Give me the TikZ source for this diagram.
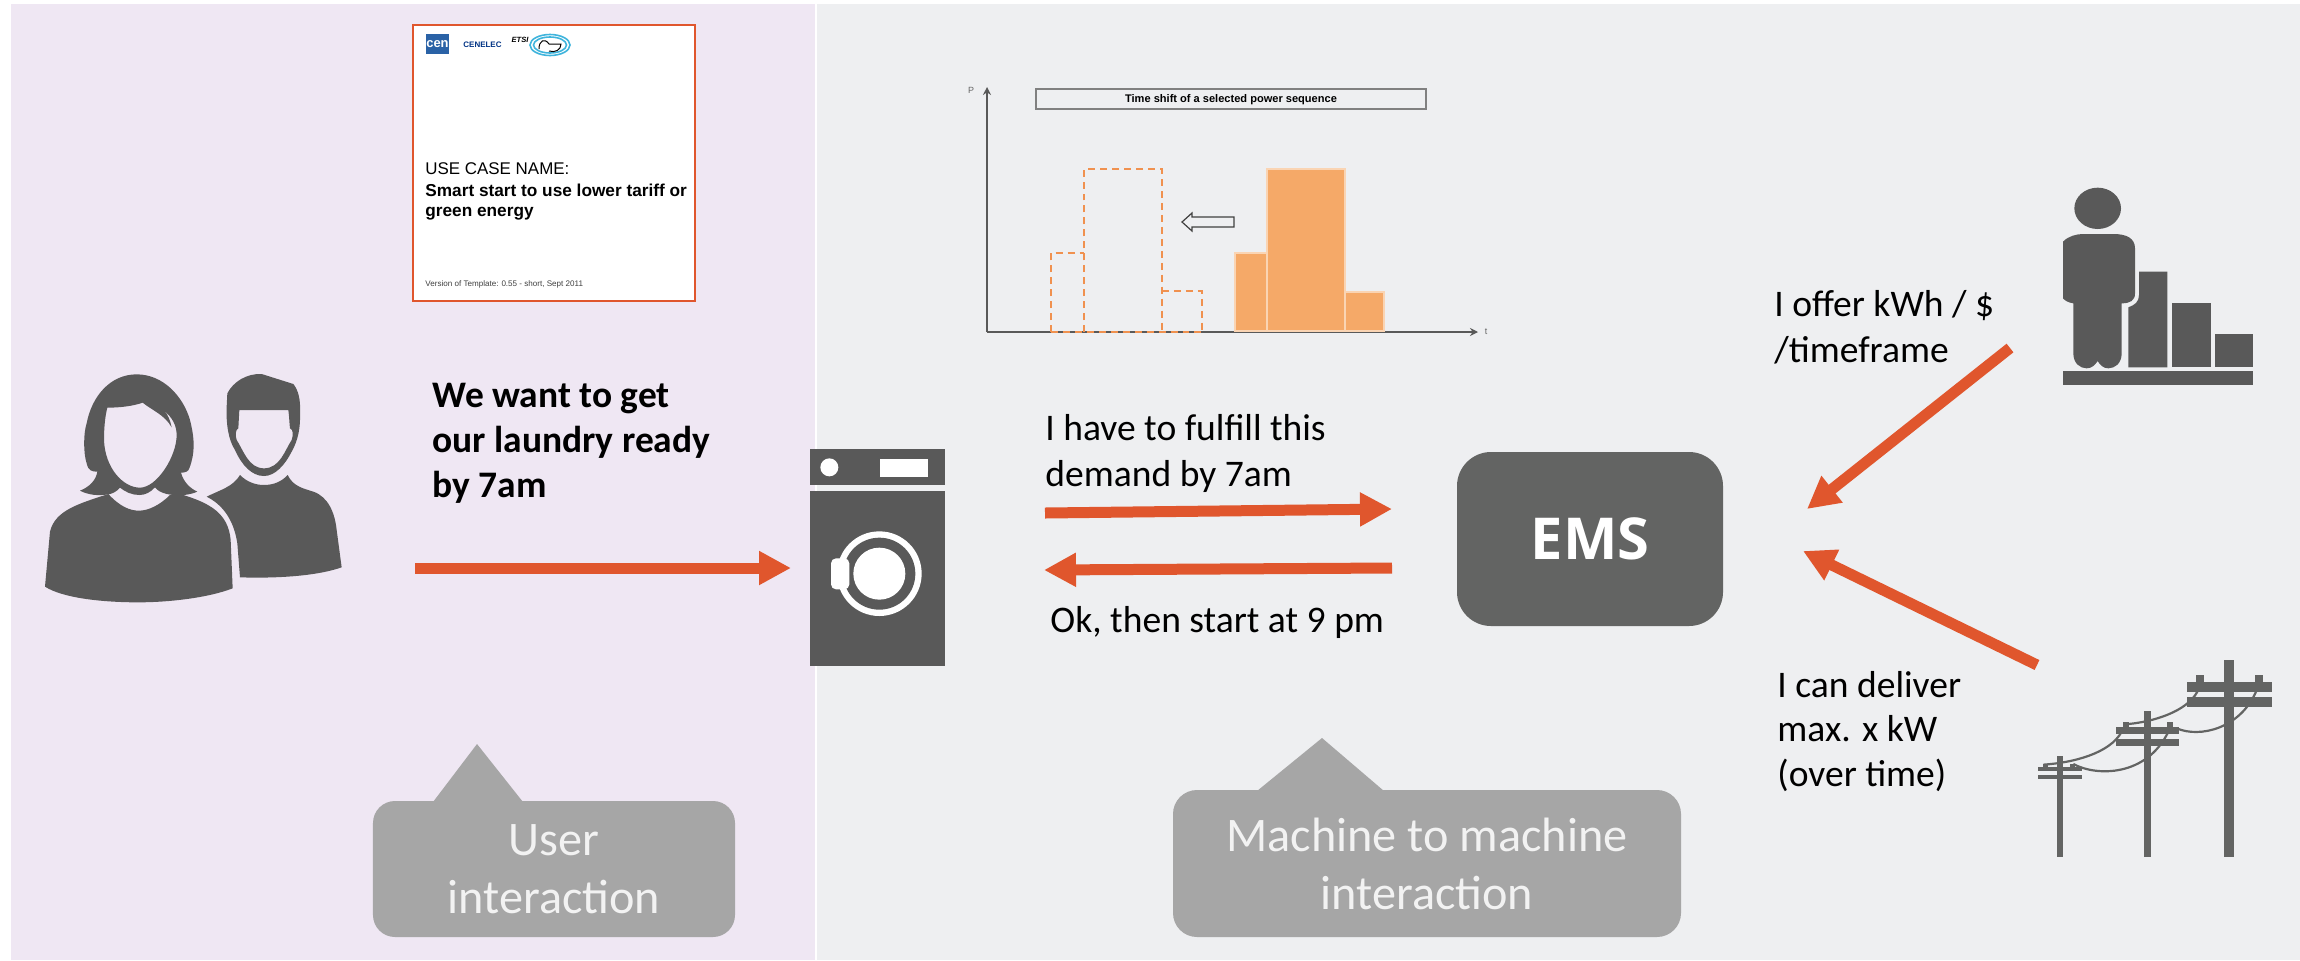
\documentclass[tikz,border=0pt]{standalone}
\usepackage{fontspec}
\setmainfont{Carlito}
\newfontfamily\arialfont{Liberation Sans}
\newfontfamily\emsfont{Open Sans}
\usetikzlibrary{arrows.meta}
\definecolor{lilacbg}{HTML}{EFE7F3}
\definecolor{greybg}{HTML}{EEEFF1}
\definecolor{darkicon}{HTML}{595959}
\definecolor{poleicon}{HTML}{636463}
\definecolor{bubble}{HTML}{A6A6A6}
\definecolor{redarrow}{HTML}{E0562D}
\definecolor{peach}{HTML}{F5A968}
\definecolor{peachline}{HTML}{F0914F}
\definecolor{cenblue}{HTML}{2A62A6}
\definecolor{ringblue}{HTML}{3FB4DC}
\tikzset{
  bigarrow/.style={redarrow, line width=5.5bp, -{Triangle[length=16bp,width=16bp]}},
  speech/.style={anchor=base west, align=left, font={\fontsize{18.85pt}{22.6pt}\selectfont}, inner sep=0pt},
  bubblebox/.style={fill=bubble, rounded corners=11bp, inner sep=0pt, align=center, text=white!95!black,
    font={\fontsize{24.2pt}{29.1pt}\selectfont}},
  oldbar/.style={draw=peachline, line width=1.4pt, dash pattern=on 3.5pt off 2.5pt},
  newbar/.style={fill=peach, draw=peach!50!white, line width=0.6pt},
  axisline/.style={draw=darkicon, line width=1pt, -{Stealth[length=4pt,width=4pt]}}
}
\begin{document}
\begin{tikzpicture}[x=0.5bp, y=-0.5bp]
  \useasboundingbox (0,0) rectangle (2300,960);

  % Panels
  \fill[lilacbg] (11,4) rectangle (815,960);
  \fill[greybg] (816.5,4) rectangle (2300,960);

  % Use case sheet
  \node[draw=redarrow, fill=white, line width=1pt, minimum width=141bp, minimum height=138bp, inner sep=0pt] (sheet) at (554,163) {};
  \node[fill=cenblue, text=white, minimum width=11.5bp, minimum height=10bp, inner sep=0pt, font=\arialfont\bfseries\fontsize{6.5pt}{7pt}\selectfont] (cen) at (437.5,44) {cen};
  \node[text=blue!40!black!80!cyan, inner sep=0pt, font=\arialfont\bfseries\fontsize{4pt}{4pt}\selectfont] (cenelec) at (482.5,45) {CENELEC};
  \node[inner sep=0pt, font=\arialfont\bfseries\itshape\fontsize{3.8pt}{4pt}\selectfont] (etsi) at (520,40) {ETSI};
  \draw[ringblue, line width=0.8pt, fill=white] (550,45) ellipse [x radius=20, y radius=10.5];
  \draw[ringblue, line width=0.8pt] (550,45) ellipse [x radius=16.5, y radius=8];
  \fill[white] (550,45) ellipse [x radius=13, y radius=6];
  \draw[black, line width=0.5pt] (539,49) .. controls (539,40) and (545,38) .. (549,44) -- (561,44) .. controls (561,50) and (555,53) .. (549,51);
  \node[anchor=base west, inner sep=0pt, font=\arialfont\fontsize{8.5pt}{10pt}\selectfont] (ucname) at (425,174) {USE CASE NAME:};
  \node[anchor=base west, align=left, inner sep=0pt, font=\arialfont\bfseries\fontsize{8.65pt}{9.6pt}\selectfont] (ucdesc) at (425,216) {Smart start to use lower tariff or\\green energy};
  \node[anchor=base west, inner sep=0pt, text=black!75, font=\arialfont\fontsize{4.05pt}{4pt}\selectfont] (ucver) at (425,286) {Version of Template: 0.55 - short, Sept 2011};

  % Time shift chart
  \node[draw=black!50, line width=1pt, minimum width=195bp, minimum height=10bp, inner sep=0pt, text height=4.2pt, text depth=0.5pt, font=\arialfont\bfseries\fontsize{5.55pt}{6pt}\selectfont] (shift) at (1231,99) {Time shift of a selected power sequence};
  \coordinate (orig) at (987,332);
  \coordinate (ptop) at (987,87);
  \coordinate (tend) at (1478,332);
  \node[text=black!60, inner sep=0pt, font=\arialfont\fontsize{4.5pt}{5pt}\selectfont] (plabel) at (971,90) {P};
  \node[text=black!60, inner sep=0pt, font=\arialfont\fontsize{4.5pt}{5pt}\selectfont] (tlabel) at (1486,332) {t};
  \draw[axisline] (orig) -- (ptop);
  \draw[axisline] (orig) -- (tend);
  \draw[oldbar] (1051,332) |- (1084,253);
  \draw[oldbar] (1084,332) |- (1162,169) -- (1162,332);
  \draw[oldbar] (1162,291) -| (1202,332);
  \draw[oldbar] (1051,332) -- (1202,332);
  \draw[newbar] (1235,331) rectangle (1267,253);
  \draw[newbar] (1267,331) rectangle (1345,169);
  \draw[newbar] (1345,331) rectangle (1384,292);
  \draw[black!75, line width=0.6pt] (1182,222) -- (1192,213) -- (1192,217) -- (1234,217) -- (1234,227) -- (1192,227) -- (1192,231) -- cycle;

  % Users
  \begin{scope}[shift={(20,340)}, scale=1/3]
    \fill[darkicon] (75,740) -- (90,575) .. controls (105,510) and (180,490) .. (265,462) .. controls (300,500) and (330,512) .. (357,512) .. controls (385,512) and (420,495) .. (450,465) -- (490,465) .. controls (570,490) and (625,520) .. (632,600) -- (638,745) .. controls (560,775) and (440,787) .. (355,787) .. controls (250,787) and (130,775) .. (75,740) -- cycle;
    \fill[darkicon, even odd rule] (180,452) .. controls (210,440) and (228,420) .. (232,395) .. controls (215,395) and (205,392) .. (200,370) .. controls (190,340) and (190,280) .. (200,250) .. controls (215,170) and (270,103) .. (350,103) .. controls (430,103) and (490,170) .. (510,240) .. controls (525,300) and (525,340) .. (508,385) .. controls (505,395) and (495,398) .. (483,398) .. controls (490,425) and (510,445) .. (532,455) .. controls (505,467) and (470,468) .. (440,462) .. controls (425,458) and (412,452) .. (405,442) .. controls (390,458) and (375,465) .. (358,465) .. controls (335,465) and (315,455) .. (300,443) .. controls (290,455) and (275,462) .. (265,463) .. controls (235,468) and (205,465) .. (180,452) -- cycle
      (262,203) .. controls (300,203) and (340,198) .. (368,188) .. controls (395,210) and (435,225) .. (455,262) .. controls (450,240) and (445,225) .. (432,212) .. controls (455,230) and (470,255) .. (470,285) .. controls (470,350) and (410,443) .. (360,443) .. controls (310,443) and (255,385) .. (252,300) .. controls (252,265) and (255,230) .. (262,203) -- cycle;
    \fill[darkicon, even odd rule] (622,160) .. controls (640,125) and (680,100) .. (725,102) -- (820,132) .. controls (835,150) and (842,180) .. (840,215) .. controls (842,260) and (835,300) .. (815,335) .. controls (795,375) and (765,408) .. (732,408) .. controls (695,408) and (665,375) .. (645,330) .. controls (625,300) and (618,250) .. (620,200) -- cycle
      (658,210) -- (805,210) .. controls (808,230) and (808,250) .. (810,265) .. controls (820,268) and (820,285) .. (815,300) .. controls (795,330) and (780,385) .. (732,385) .. controls (685,385) and (670,330) .. (650,300) .. controls (645,285) and (647,268) .. (655,265) -- cycle;
    \fill[darkicon] (560,470) .. controls (600,450) and (640,440) .. (660,405) .. controls (680,425) and (705,435) .. (732,435) .. controls (760,435) and (785,425) .. (803,405) .. controls (820,440) and (850,445) .. (880,455) .. controls (925,470) and (945,520) .. (950,570) -- (965,682) .. controls (900,705) and (790,716) .. (660,712) -- (652,610) .. controls (640,530) and (600,490) .. (560,470) -- cycle;
  \end{scope}

  % Washing machine
  \begin{scope}[shift={(780,430)}, scale=1/3]
    \fill[darkicon] (90,57) rectangle (495,166);
    \fill[white] (148,112) circle [radius=27];
    \fill[white] (300,88) rectangle (445,142);
    \fill[darkicon] (90,183) rectangle (495,707);
    \fill[white] (298,431) circle [radius=127];
    \fill[darkicon] (298,431) circle [radius=108];
    \fill[white] (298,431) circle [radius=78];
    \fill[white, rounded corners=2.5bp] (153,385) rectangle (208,478);
  \end{scope}

  % Offer icon
  \begin{scope}[shift={(2020,170)}, scale=1/3]
    \fill[darkicon] (233,115) ellipse [x radius=70, y radius=62];
    \fill[darkicon] (129,215) .. controls (145,198) and (170,192) .. (190,192) -- (280,192) .. controls (320,192) and (345,205) .. (345,235) -- (345,370) .. controls (345,392) and (330,400) .. (305,400) -- (305,550) .. controls (305,580) and (285,595) .. (265,595) .. controls (250,595) and (240,585) .. (233,573) .. controls (225,585) and (215,595) .. (200,595) .. controls (180,595) and (160,580) .. (160,550) -- (160,400) .. controls (145,398) and (135,392) .. (129,385) -- cycle;
    \fill[darkicon] (357,305) -- (442,305) -- (442,592) -- (325,592) -- (325,412) .. controls (345,405) and (357,395) .. (357,375) -- cycle;
    \fill[darkicon] (457,400) rectangle (572,592);
    \fill[darkicon] (585,492) rectangle (698,592);
    \fill[darkicon] (129,604) rectangle (698,644);
  \end{scope}

  % Power poles
  \begin{scope}[shift={(2020,640)}, scale=1/3]
    \fill[poleicon] (613,60) rectangle (643,650);
    \fill[poleicon] (501,125) rectangle (755,155);
    \fill[poleicon] (501,172) rectangle (755,202);
    \fill[poleicon] (527,105) rectangle (552,125);
    \fill[poleicon] (705,105) rectangle (730,125);
    \fill[poleicon] (372,213) rectangle (393,650);
    \fill[poleicon] (289,262) rectangle (477,282);
    \fill[poleicon] (289,297) rectangle (477,317);
    \fill[poleicon] (308,247) rectangle (327,262);
    \fill[poleicon] (440,247) rectangle (458,262);
    \fill[poleicon] (112,348) rectangle (128,650);
    \fill[poleicon] (55,381) rectangle (186,393);
    \fill[poleicon] (55,405) rectangle (186,418);
    \fill[poleicon] (68,372) rectangle (85,381);
    \fill[poleicon] (150,372) rectangle (165,381);
    \draw[poleicon, line width=1.1pt] (70,374) .. controls (160,368) and (270,340) .. (305,275);
    \draw[poleicon, line width=1.1pt] (160,372) .. controls (230,410) and (380,410) .. (445,275);
    \draw[poleicon, line width=1.1pt] (325,252) .. controls (400,245) and (500,215) .. (532,155);
    \draw[poleicon, line width=1.1pt] (470,265) .. controls (540,295) and (660,265) .. (708,155);
  \end{scope}

  % EMS box
  \node[fill=poleicon, rounded corners=17bp, minimum width=133bp, minimum height=87bp, inner sep=0pt, text=white, font=\emsfont\bfseries\fontsize{29pt}{30pt}\selectfont] (ems) at (1590,539) {EMS};

  % Labels
  \node[speech, font={\bfseries\fontsize{18.8pt}{22.5pt}\selectfont}] (want) at (432,497) {We want to get\\our laundry ready\\by 7am};
  \node[speech] (fulfill) at (1045,486) {I have to fulfill this\\demand by 7am};
  \node[speech] (okstart) at (1050,632) {Ok, then start at 9 pm};
  \node[speech] (offer) at (1774,362) {I offer kWh / \$\\/timeframe};
  \node[speech, font={\fontsize{18.85pt}{22.1pt}\selectfont}] (deliver) at (1777,786) {I can deliver\\max. x kW\\(over time)};

  % Bubbles
  \node[bubblebox, minimum width=181bp, minimum height=68bp] (user) at (554,869) {User\\interaction};
  \fill[bubble] (433,802) -- (477,744) -- (523,802) -- cycle;
  \node[bubblebox, rounded corners=12bp, minimum width=254bp, minimum height=73.5bp] (m2m) at (1427,863.5) {Machine to machine\\interaction};
  \fill[bubble] (1257,791) -- (1322,738) -- (1384,791) -- cycle;

  % Arrows
  \coordinate (a0) at (415,568);
  \coordinate (a1) at (791,568);
  \coordinate (b0) at (1045,513);
  \coordinate (b1) at (1392,509);
  \coordinate (c0) at (1392,568);
  \coordinate (c1) at (1044,570);
  \coordinate (d0) at (2010,348);
  \coordinate (d1) at (1807,509);
  \coordinate (e0) at (2037,665);
  \coordinate (e1) at (1803,551);
  \draw[bigarrow] (a0) -- (a1);
  \draw[bigarrow] (b0) -- (b1);
  \draw[bigarrow] (c0) -- (c1);
  \draw[bigarrow] (d0) -- (d1);
  \draw[bigarrow] (e0) -- (e1);
\end{tikzpicture}
\end{document}
